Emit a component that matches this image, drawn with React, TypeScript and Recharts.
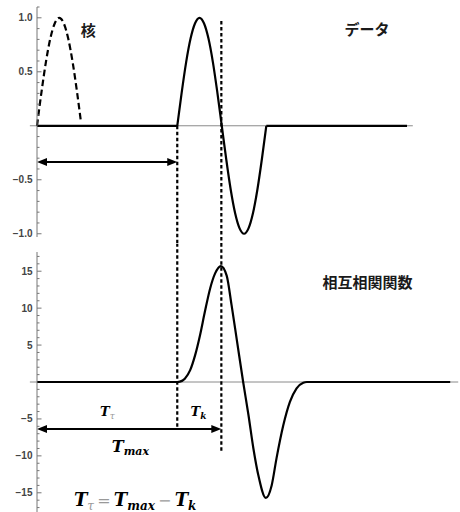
import React from 'react';
import { LineChart, Line, XAxis, YAxis, ReferenceLine, ReferenceDot } from 'recharts';

// kernel: dashed half wave at the start of the time axis
const kernelT = [0, 1, 2, 3, 4, 5, 6, 7, 8, 9, 9.8];
const kernelV = [0, 0.31, 0.59, 0.81, 0.95, 1.0, 0.95, 0.81, 0.59, 0.31, 0.06];

// data: one full wave, flat before and after
const waveT = [31.5, 32.5, 33.5, 34.5, 35.5, 36.5, 37.5, 38.5, 39.5, 40.5, 41.5, 42.5, 43.5, 44.5, 45.5, 46.5, 47.5, 48.5, 49.5, 50.5, 51.5];
const waveV = [0, 0.31, 0.59, 0.81, 0.95, 1.0, 0.95, 0.81, 0.59, 0.31, 0, -0.31, -0.59, -0.81, -0.95, -1.0, -0.95, -0.81, -0.59, -0.31, 0];
const flatBeforeT = [0, 31.5];
const flatAfterT = [51.5, 83.1];

// cross-correlation
const corrT = [0, 31.5, 32.1, 33.2, 34.4, 35.5, 36.6, 37.7, 38.9, 40.0, 41.3, 42.6, 43.7, 44.9, 46.3, 47.5, 48.6, 49.7, 51.4, 52.7, 53.8, 55.3, 56.8, 58.3, 59.8, 60.6, 92.8];
const corrV = [0, 0, 0.05, 0.45, 1.6, 3.6, 6.3, 9.5, 12.7, 14.7, 15.7, 14.4, 10.4, 5.6, 0, -4.5, -9.0, -12.6, -15.7, -14.0, -10.3, -5.9, -2.7, -0.85, -0.1, 0, 0];

// marker times
const tStart = 31.5; // data start
const tMax = 41.4; // correlation peak

// y ticks
const topTicks = [-1.0, -0.9, -0.8, -0.7, -0.6, -0.5, -0.4, -0.3, -0.2, -0.1, 0.1, 0.2, 0.3, 0.4, 0.5, 0.6, 0.7, 0.8, 0.9, 1.0, 1.1];
const topMajor = [-1.0, -0.5, 0.5, 1.0];
const bottomTicks = [-17, -16, -15, -14, -13, -12, -11, -10, -9, -8, -7, -6, -5, -4, -3, -2, -1, 1, 2, 3, 4, 5, 6, 7, 8, 9, 10, 11, 12, 13, 14, 15, 16, 17];
const bottomMajor = [-15, -10, -5, 5, 10, 15];

const rows = (ts: number[], vs: number[]) => ts.map((t, i) => ({ t, v: vs[i] }));
const flat = (ts: number[]) => ts.map((t) => ({ t, v: 0 }));

const mathFont = "'DejaVu Serif', serif";
const cjkFont = "'Noto Sans CJK JP', sans-serif";
const axisGray = '#777';

const fmtTop = (v: number) => (v < 0 ? '\u2212' : '') + Math.abs(v).toFixed(1);
const fmtBottom = (v: number) => (v < 0 ? '\u2212' : '') + Math.abs(v);

// inward Mathematica-style ticks
const makeTick = (majors: number[], fmt: (v: number) => string) => (props: any) => {
  const { x, y, payload } = props;
  const v = payload.value;
  const major = majors.some((m) => Math.abs(m - v) < 1e-6);
  return (
    <g>
      <line x1={x} x2={x + (major ? 4.5 : 2.5)} y1={y} y2={y} stroke={axisGray} strokeWidth={1} />
      {major && (
        <text x={x - 4.5} y={y} dy={3.5} textAnchor="end" fontFamily="'Liberation Sans', Arial, sans-serif"
          fontWeight={700} fontSize={10} fill="#444">
          {fmt(v)}
        </text>
      )}
    </g>
  );
};

// double headed horizontal arrow
const Arrow = (p: any) => {
  const { x1, y1, x2, y2 } = p;
  const L = 10;
  const H = 4;
  return (
    <g>
      <line x1={x1 + L - 1} y1={y1} x2={x2 - L + 1} y2={y2} stroke="#000" strokeWidth={2} />
      <polygon points={`${x1},${y1} ${x1 + L},${y1 - H} ${x1 + L},${y1 + H}`} fill="#000" />
      <polygon points={`${x2},${y2} ${x2 - L},${y2 - H} ${x2 - L},${y2 + H}`} fill="#000" />
    </g>
  );
};

const cjkLabel = (text: string) => (p: any) => (
  <text x={p.cx} y={p.cy} dy={5} textAnchor="middle" fontFamily={cjkFont} fontWeight={700} fontSize={15} fill="#1a1a1a">
    {text}
  </text>
);

const subStyle = { fontWeight: 'bold' as const };
const grayStyle = { fill: '#999', fontWeight: 'normal' as const };

const TTau = (p: any) => (
  <text x={p.cx} y={p.cy} fontFamily={mathFont} fontStyle="italic" fontWeight="bold" fontSize={13} fill="#000">
    T<tspan dy={2.5} fontSize={9} style={grayStyle}>τ</tspan>
  </text>
);

const TK = (p: any) => (
  <text x={p.cx} y={p.cy} fontFamily={mathFont} fontStyle="italic" fontWeight="bold" fontSize={13} fill="#000">
    T<tspan dy={2.5} fontSize={9} style={subStyle}>k</tspan>
  </text>
);

const TMax = (p: any) => (
  <text x={p.cx} y={p.cy} fontFamily={mathFont} fontStyle="italic" fontWeight="bold" fontSize={16} fill="#000">
    T<tspan dy={3} fontSize={11} style={subStyle}>max</tspan>
  </text>
);

const Formula = (p: any) => (
  <text x={p.cx} y={p.cy} fontFamily={mathFont} fontStyle="italic" fontWeight="bold" fontSize={18} fill="#000">
    T<tspan dy={3.5} fontSize={12} style={grayStyle}>τ</tspan>
    <tspan dy={-3.5} fontSize={16} style={grayStyle} fontStyle="normal">{'\u2009=\u2009'}</tspan>
    <tspan>T</tspan>
    <tspan dy={3.5} fontSize={12}>max</tspan>
    <tspan dy={-3.5} fontSize={16} style={grayStyle} fontStyle="normal">{'\u2009\u2212\u2009'}</tspan>
    <tspan>T</tspan>
    <tspan dy={3.5} fontSize={12}>k</tspan>
  </text>
);

const dotted = { stroke: '#000', strokeWidth: 2.2, strokeDasharray: '3.5 2.5' };
const lineCommon = { type: 'monotone' as const, dataKey: 'v', stroke: '#000', strokeWidth: 2.2, dot: false, activeDot: false, isAnimationActive: false };

export default function App() {
  return (
    <div style={{ position: 'absolute', left: 0, top: 0, width: 460, height: 512, background: '#fff' }}>
      {/* upper panel: kernel and data */}
      <LineChart width={460} height={244} margin={{ top: 7, right: 0, bottom: 7, left: 0 }}>
        <XAxis type="number" dataKey="t" domain={[0, 95]} hide />
        <YAxis type="number" domain={[-1.03, 1.1]} ticks={topTicks} interval={0} width={37}
          tick={makeTick(topMajor, fmtTop)} tickLine={false} tickSize={0} tickMargin={0}
          axisLine={{ stroke: axisGray, strokeWidth: 1 }} />
        <ReferenceLine segment={[{ x: -1.6, y: 0 }, { x: 84.4, y: 0 }]} stroke="#8a8a8a" strokeWidth={1} ifOverflow="visible" />
        <ReferenceLine segment={[{ x: tStart, y: 0 }, { x: tStart, y: -1.12 }]} {...dotted} ifOverflow="visible" />
        <ReferenceLine segment={[{ x: tMax, y: 0.97 }, { x: tMax, y: -1.12 }]} {...dotted} ifOverflow="visible" />
        <ReferenceLine segment={[{ x: 0, y: -0.335 }, { x: tStart, y: -0.335 }]} ifOverflow="visible" shape={Arrow} />
        <Line {...lineCommon} data={rows(kernelT, kernelV)} strokeDasharray="6.5 3.5" />
        <Line {...lineCommon} type="linear" data={flat(flatBeforeT)} />
        <Line {...lineCommon} data={rows(waveT, waveV)} />
        <Line {...lineCommon} type="linear" data={flat(flatAfterT)} />
        <ReferenceDot x={11.5} y={0.874} r={0} ifOverflow="visible" shape={cjkLabel('核')} />
        <ReferenceDot x={74.1} y={0.883} r={0} ifOverflow="visible" shape={cjkLabel('データ')} />
      </LineChart>

      {/* lower panel: cross-correlation */}
      <LineChart width={460} height={268} margin={{ top: 8, right: 0, bottom: 0, left: 0 }}>
        <XAxis type="number" dataKey="t" domain={[0, 95]} hide />
        <YAxis type="number" domain={[-17.6, 17.6]} ticks={bottomTicks} interval={0} width={37}
          tick={makeTick(bottomMajor, fmtBottom)} tickLine={false} tickSize={0} tickMargin={0}
          axisLine={{ stroke: axisGray, strokeWidth: 1 }} />
        <ReferenceLine segment={[{ x: -1.6, y: 0 }, { x: 94.6, y: 0 }]} stroke="#8a8a8a" strokeWidth={1} ifOverflow="visible" />
        <ReferenceLine segment={[{ x: tStart, y: 18.8 }, { x: tStart, y: -6.36 }]} {...dotted} ifOverflow="visible" />
        <ReferenceLine segment={[{ x: tMax, y: 18.8 }, { x: tMax, y: -9.6 }]} {...dotted} ifOverflow="visible" />
        <ReferenceLine segment={[{ x: 0, y: -6.36 }, { x: tMax, y: -6.36 }]} ifOverflow="visible" shape={Arrow} />
        <Line {...lineCommon} data={rows(corrT, corrV)} />
        <ReferenceDot x={74.2} y={13.4} r={0} ifOverflow="visible" shape={cjkLabel('相互相関関数')} />
        <ReferenceDot x={14.15} y={-4.67} r={0} ifOverflow="visible" shape={TTau} />
        <ReferenceDot x={34.5} y={-4.67} r={0} ifOverflow="visible" shape={TK} />
        <ReferenceDot x={16.8} y={-9.47} r={0} ifOverflow="visible" shape={TMax} />
        <ReferenceDot x={8.3} y={-16.8} r={0} ifOverflow="visible" shape={Formula} />
      </LineChart>
    </div>
  );
}
